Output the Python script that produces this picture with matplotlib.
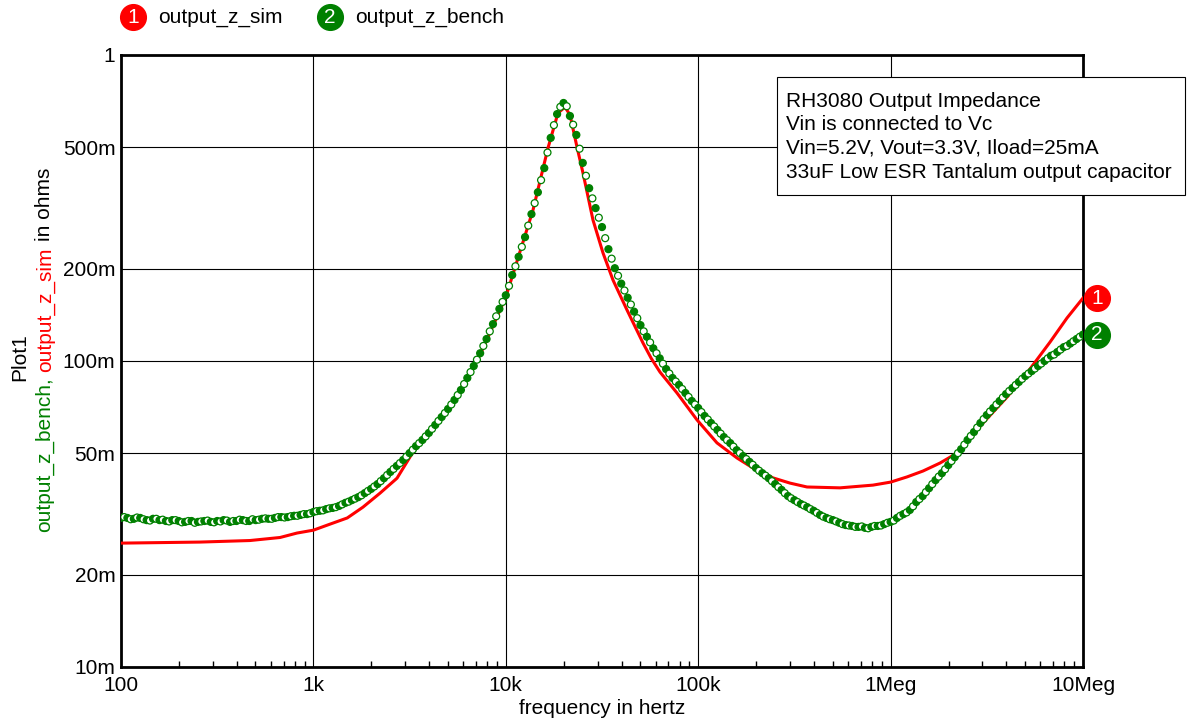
import numpy as np
import matplotlib
matplotlib.use('Agg')
import matplotlib.pyplot as plt
from matplotlib.ticker import FixedLocator, FixedFormatter, NullFormatter, NullLocator, LogLocator
from matplotlib.transforms import offset_copy
from matplotlib.patches import Rectangle

plt.rcParams['font.family'] = ['Liberation Sans', 'DejaVu Sans']

RED = '#ff0000'
GREEN = '#008000'
FS = 15

# simulated output impedance (readings, milliohms)
sim_freq = [100, 257, 468, 671, 822, 1000, 1220, 1500, 1810, 2220,
            2720, 3294, 4950, 7345, 10000, 13850, 16570, 18670, 20310, 21560,
            23450, 25190, 28390, 32010, 36070, 42650, 51660, 57000, 63320, 77610, 98580,
            125200, 159100, 192700, 244800, 300000, 367800, 545800, 809900, 1.0e6, 1.217e6,
            1.474e6, 1.806e6, 2.214e6, 3.021e6, 4.027e6, 5.117e6, 6.740e6, 8.257e6, 1.0e7]
sim_z_m = [25.4, 25.6, 25.9, 26.5, 27.4, 28.0, 29.3, 30.7, 33.3, 37.0,
           41.4, 50.4, 68.1, 104.6, 161.8, 311.5, 496.8, 646, 676, 637,
           500, 411.5, 288.9, 225.4, 183.9, 146.8, 114.5, 102.0, 92.0, 78.6, 64.2,
           54.0, 48.2, 44.7, 41.5, 39.9, 38.75, 38.5, 39.3, 40.2, 41.8,
           43.7, 46.4, 50.0, 62.7, 76.2, 91.4, 115.3, 138.2, 160.6]

# bench measurement, log sweep 100 Hz .. 10 MHz, 60 points/decade (milliohms)
bench_freq = np.logspace(2, 7, 301)
bench_z_m = [
    30.7, 30.9, 30.7, 30.4, 30.5, 30.8, 30.7, 30.4, 30.2, 30.1,
    30.5, 30.5, 30.2, 30.3, 30.0, 29.9, 30.2, 30.2, 30.0, 29.7,
    29.8, 30.0, 30.0, 29.6, 29.8, 29.9, 30.0, 30.1, 29.8, 29.7,
    30.0, 29.9, 30.2, 30.1, 29.8, 30.0, 30.0, 30.3, 30.2, 30.0,
    30.0, 30.4, 30.2, 30.3, 30.5, 30.6, 30.5, 30.5, 30.7, 30.9,
    30.9, 30.8, 30.9, 31.1, 31.2, 31.2, 31.4, 31.6, 31.6, 31.8,
    32.1, 32.3, 32.4, 32.5, 32.8, 33.0, 33.1, 33.3, 33.6, 34.0,
    34.4, 34.7, 35.1, 35.5, 35.9, 36.4, 37.0, 37.6, 38.2, 38.9,
    39.6, 40.5, 41.4, 42.4, 43.4, 44.4, 45.4, 46.4, 47.5, 48.7,
    50.0, 51.3, 52.7, 53.9, 55.2, 56.7, 58.2, 60.0, 61.8, 63.7,
    65.6, 67.6, 69.7, 72.1, 74.6, 77.4, 80.4, 84.1, 88.0, 92.0,
    96.3, 101, 106, 112, 118, 125, 132, 140, 148, 156,
    164, 176, 191, 204, 219, 236, 254, 277, 302, 328,
    356, 390, 427, 480, 536, 590, 641, 677, 697, 680,
    632, 592, 548, 494, 444, 403, 367, 340, 316, 294,
    274, 252, 232, 216, 201, 190, 179, 170, 161, 153,
    145, 138, 131, 125, 120, 115, 110, 106, 102, 98.0,
    94.1, 91.0, 88.0, 85.7, 83.5, 81.0, 78.6, 76.3, 74.0, 72.1,
    70.2, 68.1, 66.1, 64.4, 62.7, 61.1, 59.5, 57.9, 56.4, 55.1,
    53.9, 52.5, 51.1, 50.0, 48.9, 47.8, 46.8, 45.8, 44.7, 43.8,
    43.0, 42.2, 41.4, 40.5, 39.6, 38.7, 37.9, 37.0, 36.2, 35.6,
    35.1, 34.6, 34.1, 33.7, 33.3, 32.8, 32.4, 31.9, 31.4, 31.0,
    30.7, 30.4, 30.2, 29.9, 29.6, 29.3, 29.1, 29.0, 28.9, 28.7,
    28.7, 28.8, 28.5, 28.4, 28.7, 28.9, 28.9, 29.0, 29.3, 29.6,
    29.8, 30.1, 30.7, 31.2, 31.6, 32.0, 32.6, 33.5, 34.6, 35.4,
    36.2, 37.3, 38.4, 39.6, 40.8, 41.9, 43.0, 44.3, 45.7, 47.1,
    48.5, 50.0, 51.5, 53.3, 55.2, 56.9, 58.6, 60.6, 62.7, 64.6,
    66.6, 68.4, 70.2, 72.1, 74.0, 76.0, 78.0, 79.8, 81.6, 83.5,
    85.4, 87.4, 89.3, 91.0, 92.7, 94.5, 96.3, 98.1, 100, 102,
    104, 105, 107, 109, 111, 112, 114, 116, 118, 120,
    122]

xticks = [1e2, 1e3, 1e4, 1e5, 1e6, 1e7]
xtick_labels = ['100', '1k', '10k', '100k', '1Meg', '10Meg']
yticks = [0.01, 0.02, 0.05, 0.1, 0.2, 0.5, 1]
ytick_labels = ['10m', '20m', '50m', '100m', '200m', '500m', '1']

note_lines = ['RH3080 Output Impedance',
              'Vin is connected to Vc',
              'Vin=5.2V, Vout=3.3V, Iload=25mA',
              '33uF Low ESR Tantalum output capacitor']

sim_z = np.array(sim_z_m) / 1000.0
bench_z = np.array(bench_z_m) / 1000.0

W, H = 1187, 725
fig = plt.figure(figsize=(W / 100, H / 100), dpi=100)
ax = fig.add_axes([121 / W, 1 - 667 / H, (1083 - 121) / W, (667 - 55) / H])

ax.plot(sim_freq, sim_z, color=RED, lw=2.2, zorder=3)
# bench points alternate filled / hollow, drawn in sweep order
faces = [GREEN if i % 2 == 0 else 'white' for i in range(len(bench_z))]
ax.scatter(bench_freq, bench_z, s=25, c=faces, edgecolors=GREEN, linewidths=0.9, zorder=4)

ax.set_xscale('log')
ax.set_yscale('log')
ax.set_xlim(1e2, 1e7)
ax.set_ylim(0.01, 1)
ax.xaxis.set_major_locator(FixedLocator(xticks))
ax.xaxis.set_major_formatter(FixedFormatter(xtick_labels))
ax.xaxis.set_minor_locator(LogLocator(base=10, subs=np.arange(2, 10)))
ax.xaxis.set_minor_formatter(NullFormatter())
ax.yaxis.set_major_locator(FixedLocator(yticks))
ax.yaxis.set_major_formatter(FixedFormatter(ytick_labels))
ax.yaxis.set_minor_locator(NullLocator())
ax.tick_params(which='major', length=0, labelsize=FS)
ax.tick_params(axis='x', which='major', pad=6.5)
ax.tick_params(axis='y', which='major', pad=4)
ax.tick_params(axis='x', which='minor', direction='in', length=4, width=1, color='black')
ax.grid(True, which='major', color='black', lw=0.8)
for s in ax.spines.values():
    s.set_linewidth(2)
ax.set_xlabel('frequency in hertz', fontsize=FS, labelpad=3)

# numbered circles at the trace ends
off = offset_copy(ax.transData, fig=fig, x=14, y=0, units='dots')
for num, val, col in [('1', sim_z[-1], RED), ('2', bench_z[-1], GREEN)]:
    ax.plot([1e7], [val], 'o', ms=18.5, color=col, transform=off, clip_on=False, zorder=6)
    ax.text(1e7, val, num, color='white', fontsize=FS, ha='center', va='center',
            transform=off, clip_on=False, zorder=7)

# overlay in pixel coordinates for legend, note box and y label
ov = fig.add_axes([0, 0, 1, 1], zorder=5)
ov.set_xlim(0, W)
ov.set_ylim(H, 0)
ov.axis('off')

for cx, num, col, name in [(133, '1', RED, 'output_z_sim'), (330, '2', GREEN, 'output_z_bench')]:
    ov.plot([cx], [17], 'o', ms=18.5, color=col)
    ov.text(cx, 17, num, color='white', fontsize=FS, ha='center', va='center')
    ov.text(cx + 25, 17, name, color='black', fontsize=FS, ha='left', va='center')

ov.add_patch(Rectangle((777, 77), 1185 - 777, 195 - 77, facecolor='white',
                       edgecolor='black', lw=0.8, zorder=3))
for i, line in enumerate(note_lines):
    ov.text(786, 101 + i * 23.7, line, fontsize=FS, ha='left', va='center', zorder=4)

ov.text(20, 357, 'Plot1', rotation=90, fontsize=FS, ha='center', va='center')
renderer = fig.canvas.get_renderer()
parts = [('output_z_bench,', GREEN), ('output_z_sim', RED), ('in ohms', 'black')]
gap = 6
texts, lens = [], []
for s, c in parts:
    t = ov.text(45, 0, s, rotation=90, color=c, fontsize=FS, ha='center', va='bottom')
    texts.append(t)
    lens.append(t.get_window_extent(renderer).height)
y = 350 + (sum(lens) + gap * (len(parts) - 1)) / 2
for t, l in zip(texts, lens):
    t.set_y(y)
    y -= l + gap

fig.savefig('out.png', dpi=100)
